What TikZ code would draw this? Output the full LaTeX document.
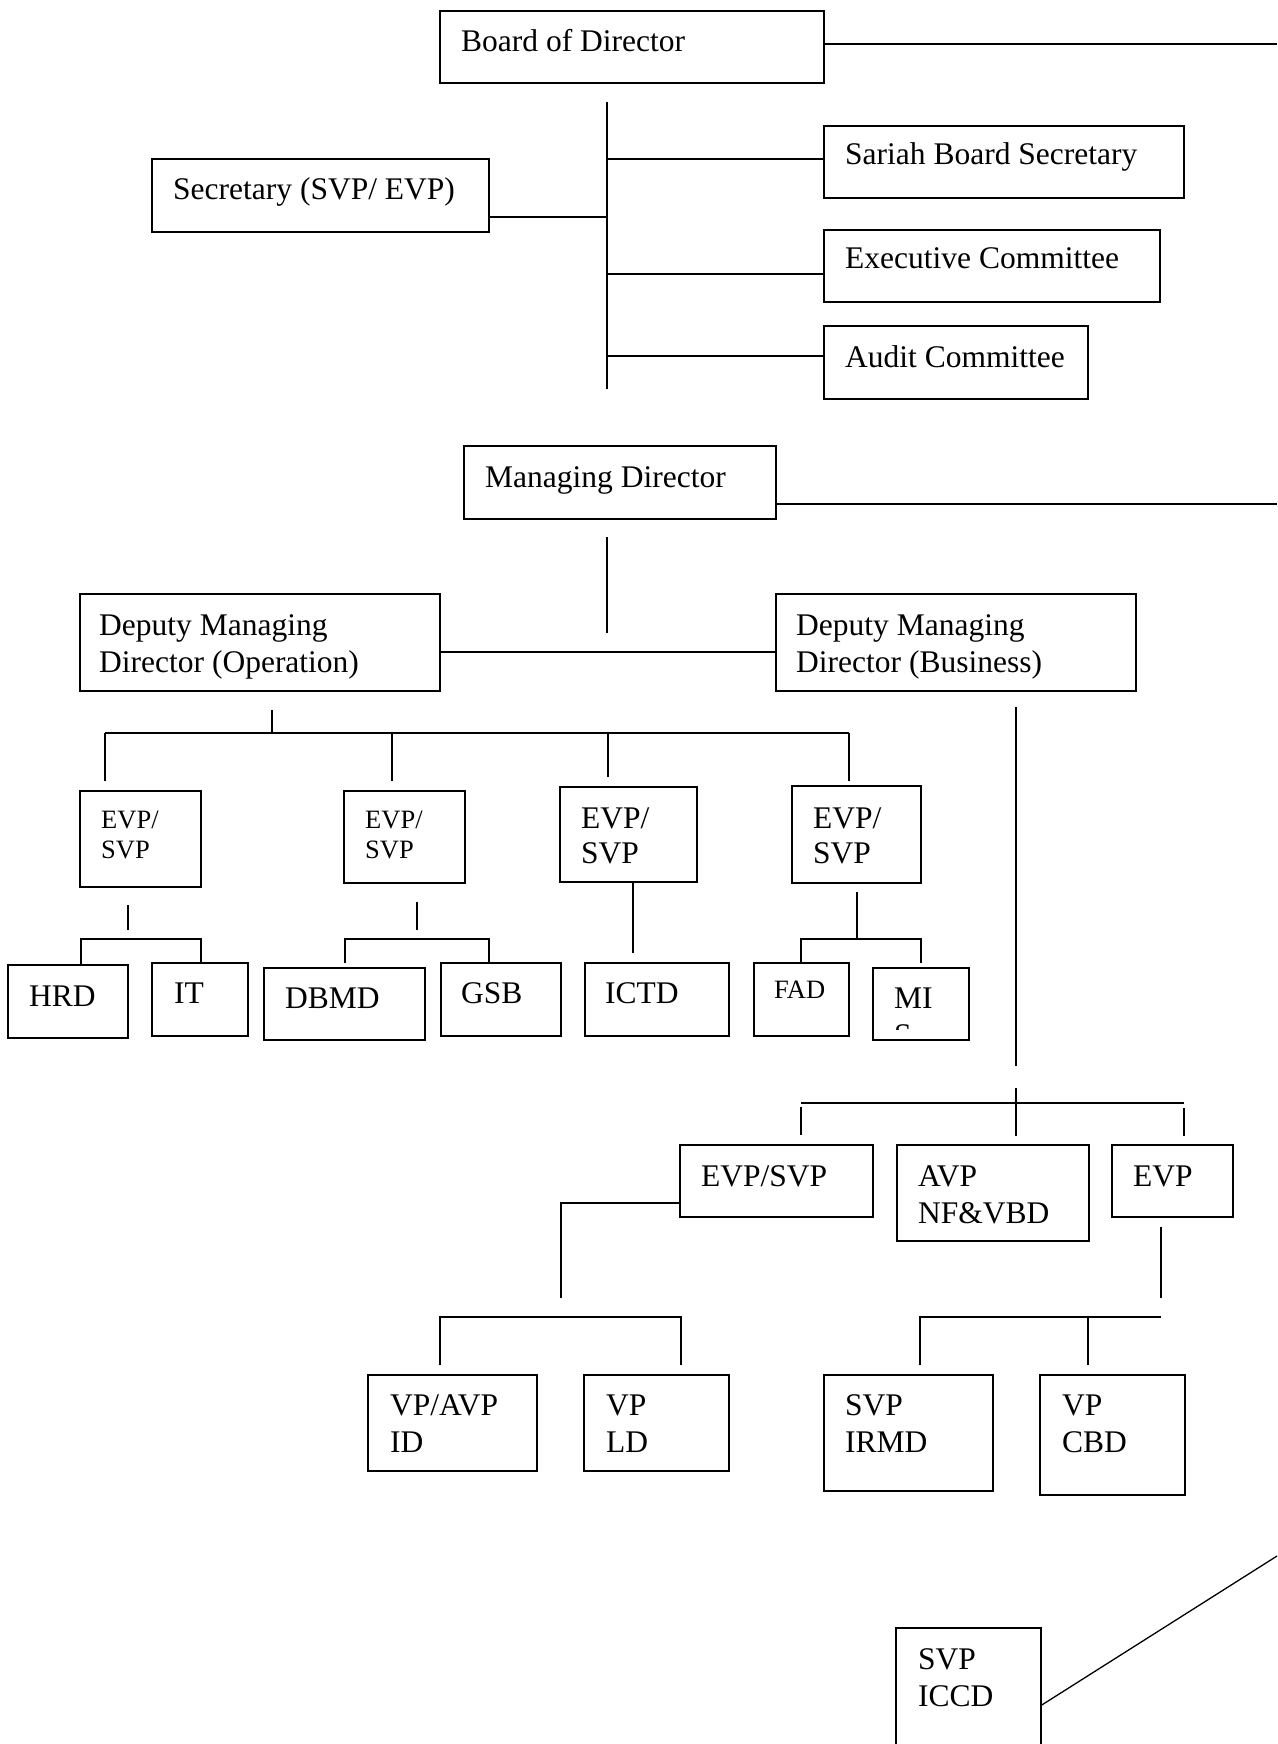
\documentclass[tikz,border=0pt]{standalone}
\usepackage{fontspec}
\setmainfont{Liberation Serif}
\usetikzlibrary{calc}

% rectangle node given by its two corners: name, x1, y1, x2, y2
\newcommand\orgbox[5]{%
  \node[box, minimum width={(#4-#2)*1pt}, minimum height={(#5-#3)*1pt}]
    (#1) at ({(#2+#4)/2},{(#3+#5)/2}) {};}

% text labels are placed by the baseline of their last line
\tikzset{
  box/.style={draw, rectangle, line width=1.5pt, inner sep=0pt},
  conn/.style={line width=1.3pt},
  lbl/.style={anchor=base west, inner sep=0pt, align=left,
              font=\fontsize{31.5}{37}\selectfont},
  lblsm/.style={lbl, font=\fontsize{26.5}{30}\selectfont},
}

\begin{document}
\begin{tikzpicture}[x=1pt, y=-1pt]
\useasboundingbox (0,0) rectangle (1277,1744);

% ---------- board level ----------
\orgbox{bod}{440}{11}{824}{83}
\node[lbl] (bod-t) at (461,52) {Board of Director};
\orgbox{sec}{152}{159}{489}{232}
\node[lbl] (sec-t) at (173,200) {Secretary (SVP/ EVP)};
\orgbox{sbs}{824}{126}{1184}{198}
\node[lbl] (sbs-t) at (845,165) {Sariah Board Secretary};
\orgbox{exc}{824}{230}{1160}{302}
\node[lbl] (exc-t) at (845,269) {Executive Committee};
\orgbox{aud}{824}{326}{1088}{399}
\node[lbl] (aud-t) at (845,367) {Audit Committee};

\coordinate (bodR) at (1277,44);
\draw[conn] (bod.east |- bodR) -- (bodR);
\coordinate (spT) at (607,102);
\coordinate (spB) at (607,389);
\draw[conn] (spT) -- (spB);
\draw[conn] (sec.east |- 0,217) -- (spT |- 0,217);
\draw[conn] (spT |- 0,159) -- (sbs.west |- 0,159);
\draw[conn] (spT |- 0,274) -- (exc.west |- 0,274);
\draw[conn] (spT |- 0,356) -- (aud.west |- 0,356);

% ---------- managing director ----------
\orgbox{md}{464}{446}{776}{519}
\node[lbl] (md-t) at (485,487) {Managing Director};
\coordinate (mdR) at (1277,504);
\draw[conn] (md.east |- mdR) -- (mdR);
\coordinate (mdA) at (607,537);
\coordinate (mdB) at (607,633);
\draw[conn] (mdA) -- (mdB);

\orgbox{dmdo}{80}{594}{440}{691}
\node[lbl] (dmdo-t) at (99,672) {Deputy Managing\\Director (Operation)};
\orgbox{dmdb}{776}{594}{1136}{691}
\node[lbl] (dmdb-t) at (796,672) {Deputy Managing\\Director (Business)};
\draw[conn] (dmdo.east |- 0,652) -- (dmdb.west |- 0,652);

% ---------- operation branch ----------
\coordinate (opA) at (272,710);
\coordinate (opB) at (272,733);
\draw[conn] (opA) -- (opB);
\draw[conn] (105,733) coordinate (opL) -- (849,733) coordinate (opR);

\orgbox{evpa}{80}{791}{201}{887}
\node[lblsm] (evpa-t) at (101,858) {EVP/\\SVP};
\orgbox{evpb}{344}{791}{465}{883}
\node[lblsm] (evpb-t) at (365,858) {EVP/\\SVP};
\orgbox{evpc}{560}{787}{697}{882}
\node[lbl, font=\fontsize{31.5}{35}\selectfont] (evpc-t) at (581,863) {EVP/\\SVP};
\orgbox{evpd}{792}{786}{921}{883}
\node[lbl, font=\fontsize{31.5}{35}\selectfont] (evpd-t) at (813,863) {EVP/\\SVP};

\draw[conn] (opL) -- (105,781);
\draw[conn] (392,733) -- (392,781);
\draw[conn] (608,733) -- (608,777);
\draw[conn] (opR) -- (849,781);

\orgbox{hrd}{8}{965}{128}{1038}
\node[lbl] (hrd-t) at (29,1006) {HRD};
\orgbox{it}{152}{963}{248}{1036}
\node[lbl] (it-t) at (174,1003) {IT};
\orgbox{dbmd}{264}{968}{425}{1040}
\node[lbl] (dbmd-t) at (285,1008) {DBMD};
\orgbox{gsb}{441}{963}{561}{1036}
\node[lbl] (gsb-t) at (461,1003) {GSB};
\orgbox{ictd}{585}{963}{729}{1036}
\node[lbl] (ictd-t) at (605,1003) {ICTD};
\orgbox{fad}{754}{963}{849}{1036}
\node[lblsm] (fad-t) at (774,998) {FAD};
\orgbox{mis}{873}{968}{969}{1040}
\begin{scope}
  \clip (875,970) rectangle (967,1029);
  \node[lbl] (mis-t) at (894,1045) {MI\\S};
\end{scope}

% under first EVP/SVP
\draw[conn] (128,905) -- (128,930);
\draw[conn] (hrd.north -| 81,0) -- (81,939) -- (201,939) -- (it.north -| 201,0);
% under second EVP/SVP
\draw[conn] (417,902) -- (417,930);
\draw[conn] (345,963) -- (345,939) -- (489,939) -- (gsb.north -| 489,0);
% third EVP/SVP to ICTD
\draw[conn] (evpc.south -| 633,0) -- (633,953);
% fourth EVP/SVP
\draw[conn] (857,892) -- (857,939);
\draw[conn] (fad.north -| 801,0) -- (801,939) -- (921,939) -- (921,963);

% ---------- business branch ----------
\coordinate (buA) at (1016,707);
\coordinate (buB) at (1016,1066);
\draw[conn] (buA) -- (buB);
\draw[conn] (1016,1088) -- (1016,1136);
\draw[conn] (801,1103) -- (1184,1103);
\draw[conn] (801,1107) -- (801,1135);
\draw[conn] (1184,1108) -- (1184,1136);

\orgbox{esv}{680}{1145}{873}{1217}
\node[lbl] (esv-t) at (701,1186) {EVP/SVP};
\orgbox{avp}{897}{1145}{1089}{1241}
\node[lbl] (avp-t) at (918,1223) {AVP\\NF\&VBD};
\orgbox{evpr}{1112}{1145}{1233}{1217}
\node[lbl] (evpr-t) at (1133,1186) {EVP};

\draw[conn] (esv.west |- 0,1203) -- (561,1203) -- (561,1298);
\draw[conn] (440,1365) -- (440,1317) -- (681,1317) -- (681,1365);

\draw[conn] (1161,1227) -- (1161,1298);
\draw[conn] (920,1365) -- (920,1317) -- (1161,1317);
\draw[conn] (1088,1317) -- (1088,1365);

\orgbox{vpid}{368}{1375}{537}{1471}
\node[lbl] (vpid-t) at (390,1452) {VP/AVP\\ID};
\orgbox{vpld}{584}{1375}{729}{1471}
\node[lbl] (vpld-t) at (606,1452) {VP\\LD};
\orgbox{irmd}{824}{1375}{993}{1491}
\node[lbl] (irmd-t) at (845,1452) {SVP\\IRMD};
\orgbox{cbd}{1040}{1375}{1185}{1495}
\node[lbl] (cbd-t) at (1062,1452) {VP\\CBD};

% ---------- internal control ----------
\orgbox{iccd}{896}{1628}{1041}{1800}
\node[lbl] (iccd-t) at (918,1706) {SVP\\ICCD};
\coordinate (iccdR) at (1277,1556);
\draw[conn] (iccd.east |- 0,1705) -- (iccdR);

\end{tikzpicture}
\end{document}
